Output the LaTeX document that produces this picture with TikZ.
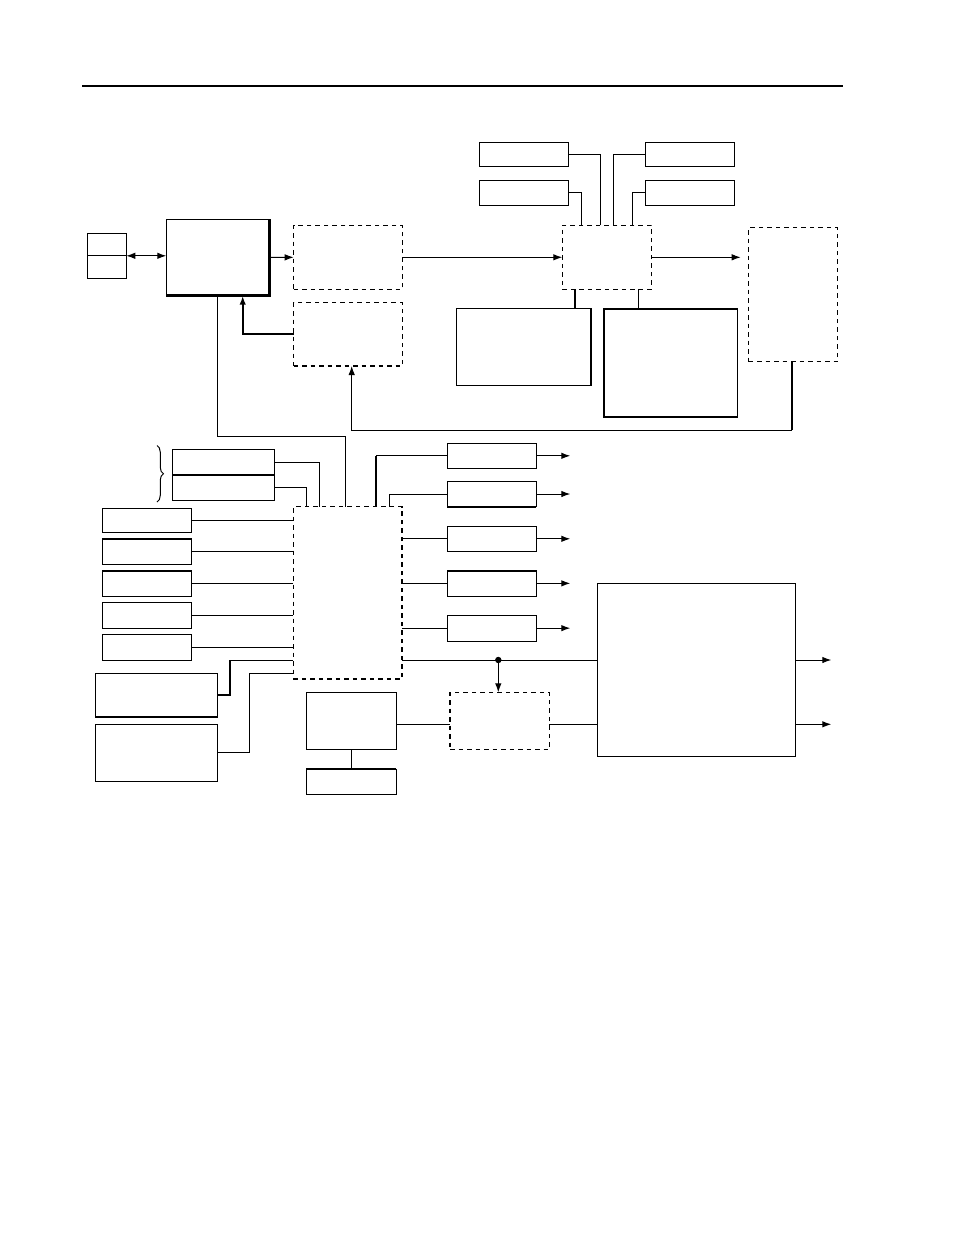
\documentclass[tikz,border=0pt]{standalone}
\usetikzlibrary{arrows.meta,decorations.pathreplacing}
\begin{document}
\begin{tikzpicture}[x=1pt,y=-1pt,
  box/.style={draw, line width=1pt, inner sep=0pt, outer sep=0pt, anchor=north west},
  dbox/.style={box, line width=1.3pt, dash pattern=on 4.5pt off 4pt},
  wire/.style={line width=1pt},
  thk/.style={line width=2pt},
  arr/.style={wire, -{Latex[length=9pt,width=6.5pt]}},
  darr/.style={wire, {Latex[length=9pt,width=6.5pt]}-{Latex[length=9pt,width=6.5pt]}},
]
\useasboundingbox (0,0) rectangle (954,1235);
% header rule
\draw[line width=2pt] (82,86) -- (843,86);

% ---- upper section ----
\node[box, minimum width=39pt, minimum height=45pt] (sm) at (87.3,233.3) {};
\draw[wire] (sm.west) -- (sm.east);
\node[box, minimum width=102.7pt, minimum height=76.4pt] (main) at (166.3,219.3) {};
\draw[line width=3pt] (main.north east) -- (main.south east) -- (main.south west);
\node[dbox, minimum width=108.6pt, minimum height=64pt] (d1) at (293.7,225.3) {};
\node[dbox, minimum width=108.6pt, minimum height=63.3pt] (d2) at (293.7,302.7) {};
\node[box, minimum width=89.3pt, minimum height=24pt] (tl1) at (479,142.3) {};
\node[box, minimum width=89.3pt, minimum height=25pt] (tl2) at (479,180.3) {};
\node[box, minimum width=89.3pt, minimum height=24pt] (tr1) at (645,142.3) {};
\node[box, minimum width=89.3pt, minimum height=25pt] (tr2) at (645,180.3) {};
\node[dbox, minimum width=89pt, minimum height=64pt] (ctr) at (562.3,225.3) {};
\node[dbox, minimum width=89pt, minimum height=134pt] (rd) at (748.7,227.7) {};
\node[box, minimum width=134.7pt, minimum height=77pt] (A) at (456.3,308.3) {};
\draw[thk] (A.north east) -- (A.south east);
\node[box, line width=1.6pt, minimum width=133.6pt, minimum height=108pt] (B) at (603.7,309) {};

\draw[darr] (sm.east) -- (sm.east -| main.west);
\draw[arr] (main.east) -- (d1.west);
\coordinate (c1) at (242.7,0);
\draw[arr, line width=2pt] (d2.west) -| (c1 |- main.south);
\draw[arr] (d1.east) -- (d1.east -| ctr.west);
\draw[arr, shorten >=8pt] (ctr.east) -- (ctr.east -| rd.west);
\coordinate (t1) at (600.3,0);
\coordinate (t2) at (581,0);
\coordinate (t3) at (613.3,0);
\coordinate (t4) at (632.3,0);
\draw[wire] (tl1.east) -| (t1 |- ctr.north);
\draw[wire] (tl2.east) -| (t2 |- ctr.north);
\draw[wire] (tr1.west) -| (t3 |- ctr.north);
\draw[wire] (tr2.west) -| (t4 |- ctr.north);
\coordinate (c7) at (574.7,0);
\coordinate (c7b) at (638.3,0);
\draw[thk] (c7 |- ctr.south) -- (c7 |- A.north);
\draw[wire] (c7b |- ctr.south) -- (c7b |- B.north);
% feedback
\coordinate (c4) at (791.7,430.3);
\coordinate (c5) at (351.7,430.3);
\draw[thk] (c4 |- rd.south) -- (c4);
\draw[arr] (c4) -- (c5) -- (c5 |- d2.south);

% ---- lower section ----
\node[dbox, minimum width=108.7pt, minimum height=172.3pt] (dm) at (293.3,506.7) {};
\coordinate (c2) at (217.3,436);
\coordinate (c3) at (345.7,436);
\draw[wire] (c2 |- main.south) -- (c2) -- (c3) -- (c3 |- dm.north);

\node[box, minimum width=102pt, minimum height=25.7pt] (br1) at (172.3,449.3) {};
\node[box, minimum width=102pt, minimum height=25.3pt] (br2) at (172.3,475) {};
\draw[thk] (br2.north west) -- (br2.north east);
\draw[wire, decorate, decoration={brace, amplitude=6.5pt}] (157,445.5) -- (157,502);
\coordinate (b1) at (319.3,0);
\coordinate (b2) at (306.7,0);
\draw[wire] (br1.east) -| (b1 |- dm.north);
\draw[wire] (br2.east) -| (b2 |- dm.north);

\node[box, minimum width=89pt, minimum height=23.7pt] (L1) at (102.3,508.3) {};
\node[box, minimum width=89pt, minimum height=25.6pt] (L2) at (102.3,538.7) {};
\node[box, minimum width=89pt, minimum height=25.3pt] (L3) at (102.3,570.7) {};
\node[box, minimum width=89pt, minimum height=25.7pt] (L4) at (102.3,602.3) {};
\node[box, minimum width=89pt, minimum height=25.7pt] (L5) at (102.3,634.3) {};
\draw[thk] (L2.north west) -- (L2.north east);
\draw[thk] (L3.north west) -- (L3.north east);
\foreach \n in {L1,L2,L3,L4,L5} \draw[wire] (\n.east) -- (\n.east -| dm.west);

\node[box, minimum width=121.6pt, minimum height=44pt] (M1) at (95.7,673.3) {};
\draw[thk] (M1.south west) -- (M1.south east);
\node[box, minimum width=121.6pt, minimum height=56.7pt] (M2) at (95.7,724.3) {};
\coordinate (c8) at (229.7,660);
\coordinate (c9) at (249.3,673.3);
\draw[thk] (M1.east) -| (c8);
\draw[wire] (c8) -- (c8 -| dm.west);
\draw[wire] (M2.east) -| (c9) -- (c9 -| dm.west);

\node[box, minimum width=90pt, minimum height=57pt] (P) at (306.3,692.3) {};
\node[box, minimum width=90pt, minimum height=25pt] (Q) at (306.3,769) {};
\draw[thk] (Q.north west) -- (Q.north east);
\draw[wire] (P.south) -- (Q.north);

\node[box, minimum width=89pt, minimum height=25pt] (O1) at (447.3,443.3) {};
\node[box, minimum width=89pt, minimum height=25.4pt] (O2) at (447.3,481.3) {};
\node[box, minimum width=89pt, minimum height=25pt] (O3) at (447.3,526.3) {};
\node[box, minimum width=89pt, minimum height=25.3pt] (O4) at (447.3,570.7) {};
\node[box, minimum width=89pt, minimum height=25.7pt] (O5) at (447.3,615.3) {};
\draw[thk] (O2.south west) -- (O2.south east);
\draw[thk] (O4.north west) -- (O4.north east);
\coordinate (o1) at (376.3,0);
\coordinate (o2) at (389.3,0);
\draw[thk] (o1 |- dm.north) -- (o1 |- O1.west);
\draw[wire] (o1 |- O1.west) -- (O1.west);
\draw[wire] (o2 |- dm.north) |- (O2.west);
\foreach \n in {O3,O4,O5} \draw[wire] (\n.west -| dm.east) -- (\n.west);
\foreach \n in {O1,O2,O3,O4,O5} \draw[arr] (\n.east) -- ++(34,0);

\node[dbox, minimum width=99.3pt, minimum height=57pt] (R) at (450,692.3) {};
\node[box, minimum width=198pt, minimum height=172.7pt] (big) at (597.3,583.3) {};
\coordinate (c10) at (0,660);
\coordinate (c11) at (0,724.3);
\coordinate (dot) at (498.3,660);
\draw[wire] (c10 -| dm.east) -- (c10 -| big.west);
\fill (dot) circle (3.2pt);
\draw[arr] (dot) -- (dot |- R.north);
\draw[wire] (P.east |- c11) -- (R.west |- c11);
\draw[wire] (R.east |- c11) -- (big.west |- c11);
\draw[arr] (c10 -| big.east) -- ++(36,0);
\draw[arr] (c11 -| big.east) -- ++(36,0);
\end{tikzpicture}
\end{document}
